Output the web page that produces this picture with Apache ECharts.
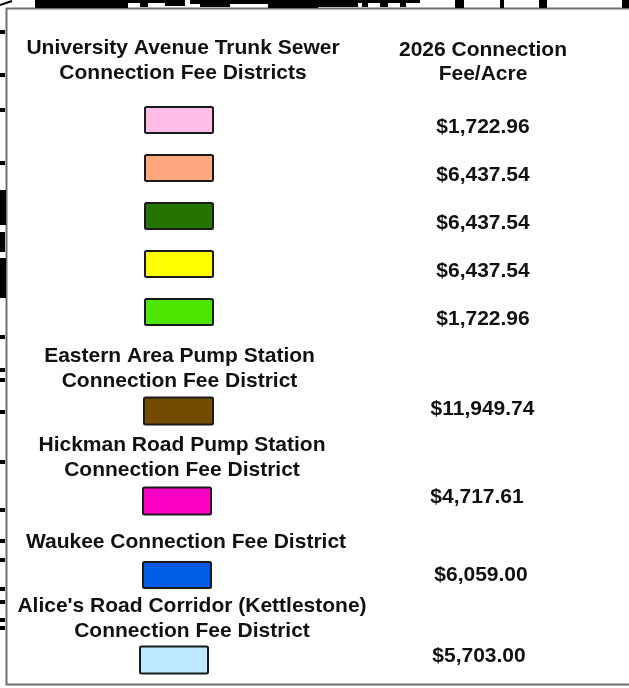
<!DOCTYPE html>
<html>
<head>
<meta charset="utf-8">
<script src="https://cdn.jsdelivr.net/npm/echarts@6/dist/echarts.min.js"></script>
<style>
html,body{margin:0;padding:0;background:#ffffff;}
#chart{width:629px;height:688px;}
</style>
</head>
<body>
<div id="chart"></div>
<script>
// ---------- data ----------
const groupTitles = [
  'University Avenue Trunk Sewer\nConnection Fee Districts',
  'Eastern Area Pump Station\nConnection Fee District',
  'Hickman Road Pump Station\nConnection Fee District',
  'Waukee Connection Fee District',
  "Alice's Road Corridor (Kettlestone)\nConnection Fee District"
];
const feeHeader = '2026 Connection\nFee/Acre';
const districtIds = ['UATS-A', 'UATS-B', 'UATS-C', 'UATS-D', 'UATS-E', 'Eastern Area', 'Hickman Road', 'Waukee', "Alice's Road"];
const districtGroup = [0, 0, 0, 0, 0, 1, 2, 3, 4];
const fees = [1722.96, 6437.54, 6437.54, 6437.54, 1722.96, 11949.74, 4717.61, 6059.00, 5703.00];
const columns = ['district', 'fee'];

// ---------- styles / layout ----------
const swatchColors = ['#FFBEE8', '#FFA77F', '#267300', '#FFFF00', '#4CE600', '#734C00', '#FF00C5', '#005CE6', '#BEE8FF'];
const groupLayout = [
  {left: 27, width: 608, top: 96, height: 240, feeOffset: 7, titleMargin: 10, titleShift: 4, sw: [68, 26]},
  {left: 26.5, width: 608, top: 396, height: 30, feeOffset: -2, titleMargin: 2, titleShift: 1, sw: [69, 27]},
  {left: 27, width: 600, top: 486, height: 30, feeOffset: -4, titleMargin: 3, titleShift: 5, sw: [68, 27]},
  {left: 25, width: 608, top: 560, height: 30, feeOffset: 0, titleMargin: 5, titleShift: 9, sw: [68, 26]},
  {left: 21.5, width: 610, top: 645, height: 30, feeOffset: -4, titleMargin: 1, titleShift: 18, sw: [68, 27]}
];
const FONT_FAMILY = '"Liberation Sans", Arial, Helvetica, sans-serif';
const FS = 21;
const TEXT_COLOR = '#111111';

function fmtMoney(v) {
  const parts = v.toFixed(2).split('.');
  parts[0] = parts[0].replace(/\B(?=(\d{3})+(?!\d))/g, ',');
  return '$' + parts[0] + '.' + parts[1];
}

const chart = echarts.init(document.getElementById('chart'), null, {renderer: 'canvas'});

const grids = [], xAxes = [], yAxes = [], series = [];
groupTitles.forEach(function (title, g) {
  const L = groupLayout[g];
  grids.push({left: L.left, width: L.width, top: L.top, height: L.height, containLabel: false, outerBoundsMode: 'none'});
  const ids = districtIds.filter(function (_, i) { return districtGroup[i] === g; });
  xAxes.push({
    type: 'category', gridIndex: g, position: 'top', data: columns,
    axisLine: {show: false}, axisTick: {show: false}, splitLine: {show: false},
    axisLabel: {
      show: true, interval: 0, margin: L.titleMargin, hideOverlap: false,
      fontFamily: FONT_FAMILY, fontWeight: 'bold', fontSize: FS, color: TEXT_COLOR,
      lineHeight: 25, align: 'center',
      formatter: function (v) {
        if (v === 'district') return '{t|' + title + '}';
        return g === 0 ? '{h|' + feeHeader + '}' : '';
      },
      rich: {
        t: {fontFamily: FONT_FAMILY, fontWeight: 'bold', fontSize: FS, color: TEXT_COLOR, lineHeight: 25, padding: [0, 0, 0, L.titleShift * 2]},
        h: {fontFamily: FONT_FAMILY, fontWeight: 'bold', fontSize: FS, color: TEXT_COLOR, lineHeight: 24}
      }
    }
  });
  yAxes.push({type: 'category', gridIndex: g, data: ids, inverse: true, show: false});

  const swatchData = [], feeData = [];
  districtIds.forEach(function (id, i) {
    if (districtGroup[i] !== g) return;
    swatchData.push(['district', id, i]);
    feeData.push(['fee', id, fees[i]]);
  });
  series.push({
    type: 'custom', xAxisIndex: g, yAxisIndex: g, silent: true,
    renderItem: function (params, api) {
      const p = api.coord([api.value(0), api.value(1)]);
      const w = L.sw[0], h = L.sw[1];
      return {
        type: 'rect',
        shape: {x: p[0] - w / 2, y: p[1] - h / 2, width: w, height: h, r: 1.5},
        style: {fill: swatchColors[api.value(2)], stroke: '#1a1a1a', lineWidth: 2}
      };
    },
    data: swatchData
  });
  series.push({
    type: 'custom', xAxisIndex: g, yAxisIndex: g, silent: true,
    renderItem: function (params, api) {
      const p = api.coord([api.value(0), api.value(1)]);
      return {
        type: 'text',
        x: p[0], y: p[1] + L.feeOffset,
        style: {
          text: fmtMoney(api.value(2)),
          align: 'center', verticalAlign: 'middle',
          fill: TEXT_COLOR,
          font: 'bold ' + FS + 'px ' + FONT_FAMILY
        }
      };
    },
    data: feeData
  });
});

// background map fragments (decoration around the legend panel)
const deco = [];
function blk(x, y, w, h) { deco.push({type: 'rect', shape: {x: x, y: y, width: w, height: h}, style: {fill: '#000'}, silent: true}); }
blk(35, 0, 93, 8);
blk(128, 0, 40, 3); blk(140, 3, 8, 4); blk(165, 0, 20, 6); blk(190, 0, 80, 4); blk(200, 4, 30, 3);
blk(268, 0, 50, 8);
blk(318, 0, 40, 7); blk(358, 0, 62, 3); blk(362, 3, 6, 4); blk(380, 3, 8, 4); blk(400, 3, 6, 4);
blk(455, 0, 9, 8); blk(500, 0, 4, 8); blk(539, 0, 8, 8); blk(622, 0, 7, 8);
deco.push({type: 'line', shape: {x1: 0, y1: 5, x2: 12, y2: 1}, style: {stroke: '#000', lineWidth: 2}, silent: true});
[32, 75, 110, 163, 337, 370, 380, 412, 462, 510, 541, 560, 589, 602, 620, 628].forEach(function (y) { blk(0, y - 2, 5, 4); });
blk(0, 190, 6, 35); blk(0, 232, 5, 20); blk(0, 258, 6, 40);

chart.setOption({
  animation: false,
  backgroundColor: '#ffffff',
  graphic: deco.concat([{
    type: 'rect', shape: {x: 6.5, y: 8.5, width: 640, height: 676},
    style: {fill: '#ffffff', stroke: '#707070', lineWidth: 2}, silent: true, z: -1
  }]),
  grid: grids,
  xAxis: xAxes,
  yAxis: yAxes,
  series: series
});
</script>
</body>
</html>
